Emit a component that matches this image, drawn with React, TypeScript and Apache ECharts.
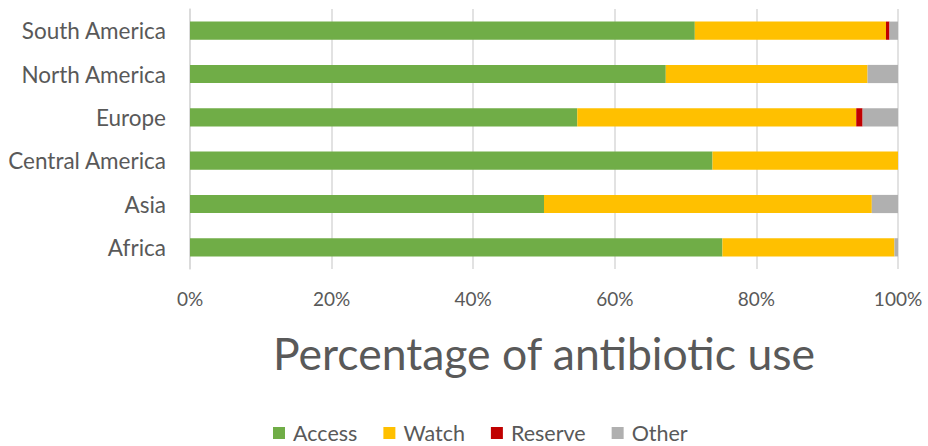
import React, { useEffect, useRef } from "react";
import * as echarts from "echarts";

const categories = ["Africa", "Asia", "Central America", "Europe", "North America", "South America"];
const accessValues = [75.2, 50.0, 73.8, 54.7, 67.2, 71.3];
const watchValues = [24.3, 46.3, 26.2, 39.4, 28.5, 27.0];
const reserveValues = [0, 0, 0, 0.9, 0, 0.5];
const otherValues = [0.5, 3.7, 0, 5.0, 4.3, 1.2];
const seriesNames = ["Access", "Watch", "Reserve", "Other"];
const seriesColors = ["#70AD47", "#FFC000", "#C00000", "#B0B0B0"];
const axisTitle = "Percentage of antibiotic use";

const FONT = "Lato, 'Noto Sans', sans-serif";
const TEXT = "#595959";

export default function App() {
  const ref = useRef<HTMLDivElement>(null);
  useEffect(() => {
    if (!ref.current) return;
    const chart = echarts.init(ref.current, null, { renderer: "svg" });
    const data = [accessValues, watchValues, reserveValues, otherValues];
    chart.setOption({
      animation: false,
      textStyle: { fontFamily: FONT, color: TEXT },
      grid: { left: 190, right: 30, top: 9, bottom: 177, containLabel: false },
      legend: {
        left: 273,
        top: 422,
        padding: 0,
        itemWidth: 12,
        itemHeight: 12,
        itemGap: 26,
        icon: "rect",
        textStyle: {
          fontFamily: FONT,
          fontSize: 21.5,
          lineHeight: 22,
          color: TEXT,
          padding: [0, 0, 0, 3],
        },
        data: seriesNames,
      },
      xAxis: {
        type: "value",
        min: 0,
        max: 100,
        interval: 20,
        name: axisTitle,
        nameLocation: "middle",
        nameGap: 61,
        nameTextStyle: { fontFamily: FONT, fontSize: 44.5, color: TEXT },
        axisLine: { show: false },
        axisTick: { show: false },
        axisLabel: {
          formatter: "{value}%",
          fontFamily: FONT,
          fontSize: 19,
          color: TEXT,
          margin: 20,
        },
        splitLine: { show: true, lineStyle: { color: "#D9D9D9", width: 1.5 } },
      },
      yAxis: {
        type: "category",
        data: categories,
        axisLine: { show: true, lineStyle: { color: "#D9D9D9", width: 1.5 } },
        axisTick: { show: false },
        axisLabel: { fontFamily: FONT, fontSize: 22.5, color: TEXT, margin: 24 },
      },
      series: seriesNames.map((name, i) => ({
        name,
        type: "bar",
        stack: "total",
        barCategoryGap: "58%",
        itemStyle: { color: seriesColors[i] },
        data: data[i],
      })),
    });
    return () => chart.dispose();
  }, []);
  return (
    <div
      ref={ref}
      style={{ position: "absolute", left: 0, top: 0, width: 928, height: 446, background: "#fff" }}
    />
  );
}
